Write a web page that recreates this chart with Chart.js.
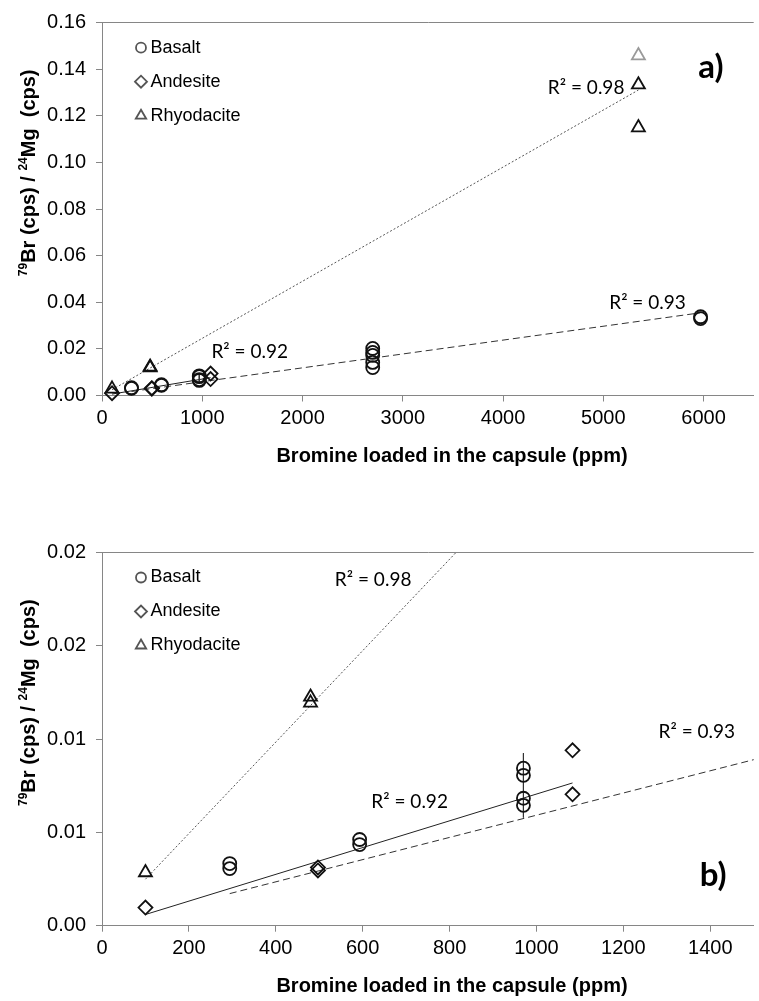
<!DOCTYPE html>
<html>
<head>
<meta charset="utf-8">
<script src="https://cdn.jsdelivr.net/npm/chart.js@4.4.1/dist/chart.umd.min.js"></script>
<style>
    html, body { margin: 0; padding: 0; background: #fff; overflow: hidden; width: 759px; height: 1001px; }
    canvas { position: absolute; left: 0; display: block; }
    #chartA { top: 0; }
    #chartB { top: 505px; }
</style>
</head>
<body>
<canvas id="chartA" width="763" height="505"></canvas>
<canvas id="chartB" width="763" height="496"></canvas>
<script>
// measured points (ppm loaded vs 79Br/24Mg)
var basaltX = [294, 294, 593, 593, 970, 970, 970, 970, 2700, 2700, 2700, 2700, 2700, 5970, 5970];
var basaltY = [0.00333, 0.00306, 0.00462, 0.00435, 0.00844, 0.00806, 0.00683, 0.00645, 0.0202, 0.0185, 0.0172, 0.0142, 0.0120, 0.0338, 0.0330];
var andesiteX = [100, 497, 497, 1083, 1083];
var andesiteY = [0.00097, 0.00312, 0.00296, 0.0094, 0.00704];
var rhyoX = [100, 480, 480, 5350, 5350, 5350];
var rhyoY = [0.00285, 0.01226, 0.01194, 0.1459, 0.1334, 0.1150];

// error bar on the basalt points at 970 ppm
var errX = [970, 970];
var errY = [0.00925, 0.0058];

// linear fits (end points)
var rhyoFitX = [100, 5350];
var rhyoFitY = [0.00249, 0.1311];
var basaltFitX = [294, 5970];
var basaltFitY = [0.00172, 0.0355];
var andesiteFitX = [100, 1083];
var andesiteFitY = [0.0006, 0.00765];

// axes
var xTicksA = [0, 1000, 2000, 3000, 4000, 5000, 6000];
var yTicksA = [0, 0.02, 0.04, 0.06, 0.08, 0.10, 0.12, 0.14, 0.16];
var yLabelsA = ['0.00', '0.02', '0.04', '0.06', '0.08', '0.10', '0.12', '0.14', '0.16'];
var xTicksB = [0, 200, 400, 600, 800, 1000, 1200, 1400];
var yTicksB = [0, 0.005, 0.01, 0.015, 0.02];
var yLabelsB = ['0.00', '0.01', '0.01', '0.02', '0.02'];

// R² labels and panel letters, anchored in data units
var notesA = [
    {text: 'R\u00b2 = 0.98', x: 4447, y: 0.1319},
    {text: 'R\u00b2 = 0.93', x: 5059, y: 0.0397},
    {text: 'R\u00b2 = 0.92', x: 1091, y: 0.0187},
    {text: 'a)', x: 5947, y: 0.1409, bold: true}
];
var notesB = [
    {text: 'R\u00b2 = 0.98', x: 536, y: 0.01853},
    {text: 'R\u00b2 = 0.92', x: 620, y: 0.00663},
    {text: 'R\u00b2 = 0.93', x: 1281, y: 0.01038},
    {text: 'b)', x: 1376, y: 0.00272, bold: true}
];

var legendNames = ['Basalt', 'Andesite', 'Rhyodacite'];
var legendStyles = ['circle', 'rectRot', 'triangle'];
var xTitle = 'Bromine loaded in the capsule (ppm)';
var yTitleParts = [{t: '79', sup: true}, {t: 'Br (cps) / '}, {t: '24', sup: true}, {t: 'Mg  (cps)'}];

const ARIAL = '"Liberation Sans", Arial, sans-serif';
const AXIS_GRAY = '#868686';

const toPts = (xs, ys) => xs.map((x, i) => ({x: x, y: ys[i]}));

// legend, annotations and axis titles
const panelDecor = {
    id: 'panelDecor',
    afterDraw(chart, args, opts) {
        const ctx = chart.ctx;
        const ca = chart.chartArea;
        const sx = chart.scales.x, sy = chart.scales.y;
        ctx.save();

        // legend inside plot area
        legendNames.forEach((name, i) => {
            const y = ca.top + 25 + i * 34;
            ctx.strokeStyle = '#555';
            ctx.fillStyle = 'rgba(0,0,0,0)';
            Chart.helpers.drawPoint(ctx, {pointStyle: legendStyles[i], radius: i === 0 ? 5 : 6, borderWidth: 1}, 141, y);
            ctx.fillStyle = '#000';
            ctx.font = '18px ' + ARIAL;
            ctx.textAlign = 'left';
            ctx.textBaseline = 'middle';
            ctx.fillText(name, 150.5, y);
        });

        // R² texts
        opts.notes.forEach(n => {
            ctx.font = n.bold ? 'bold 33px Lato, "Open Sans", sans-serif' : '19px Lato, "Open Sans", sans-serif';
            ctx.fillStyle = '#000';
            ctx.textAlign = 'left';
            ctx.textBaseline = 'middle';
            ctx.fillText(n.text, sx.getPixelForValue(n.x), sy.getPixelForValue(n.y));
        });

        // x title
        ctx.font = 'bold 20px ' + ARIAL;
        ctx.textAlign = 'center';
        ctx.textBaseline = 'alphabetic';
        ctx.fillText(xTitle, ca.left + 350, ca.bottom + 66.5);

        // y title with superscripts
        ctx.translate(35, ca.top + 253.5);
        ctx.rotate(-Math.PI / 2);
        ctx.textAlign = 'left';
        let pos = 0;
        yTitleParts.forEach(p => {
            ctx.font = p.sup ? 'bold 12px ' + ARIAL : 'bold 20px ' + ARIAL;
            ctx.fillText(p.t, pos, p.sup ? -8 : 0);
            pos += ctx.measureText(p.t).width;
        });
        ctx.restore();
    }
};

function makeDatasets() {
    const marker = (style, radius) => ({
        showLine: false,
        pointStyle: style,
        pointRadius: radius,
        pointBorderWidth: 1.8,
        pointBackgroundColor: 'rgba(0,0,0,0)',
        pointBorderColor: c => (c.raw && c.raw.y > 0.14) ? '#9a9a9a' : '#111',
        clip: false
    });
    const fit = (dash, color) => ({
        showLine: true,
        pointRadius: 0,
        borderWidth: 1,
        borderColor: color,
        borderDash: dash
    });
    return [
        Object.assign({label: 'Basalt', data: toPts(basaltX, basaltY)}, marker('circle', 6.5)),
        Object.assign({label: 'Andesite', data: toPts(andesiteX, andesiteY)}, marker('rectRot', 7)),
        Object.assign({label: 'Rhyodacite', data: toPts(rhyoX, rhyoY)}, marker('triangle', 7.5)),
        Object.assign({label: 'err', data: toPts(errX, errY)}, fit([], '#333')),
        Object.assign({label: 'fitR', data: toPts(rhyoFitX, rhyoFitY)}, fit([2, 2], '#555')),
        Object.assign({label: 'fitB', data: toPts(basaltFitX, basaltFitY)}, fit([7, 4], '#333')),
        Object.assign({label: 'fitA', data: toPts(andesiteFitX, andesiteFitY)}, fit([], '#222'))
    ];
}

function buildChart(id, cfg) {
    const canvas = document.getElementById(id);
    return new Chart(canvas.getContext('2d'), {
        type: 'scatter',
        data: {datasets: makeDatasets()},
        options: {
            responsive: false,
            animation: false,
            events: [],
            layout: {padding: {top: cfg.padTop, right: 2, bottom: 0, left: 0}},
            plugins: {
                legend: {display: false},
                tooltip: {enabled: false},
                panelDecor: {notes: cfg.notes}
            },
            scales: {
                x: {
                    type: 'linear',
                    min: 0,
                    max: cfg.xMax,
                    afterBuildTicks: s => { s.ticks = cfg.xTicks.map(v => ({value: v})); },
                    afterFit: s => { s.height = cfg.xHeight; },
                    border: {display: true, color: AXIS_GRAY, width: 1},
                    grid: {drawOnChartArea: false, drawTicks: true, tickLength: 6, tickColor: AXIS_GRAY},
                    ticks: {
                        autoSkip: false, maxRotation: 0, padding: 5, color: '#000',
                        font: {family: ARIAL, size: 20},
                        callback: (v) => String(v)
                    }
                },
                y: {
                    type: 'linear',
                    min: 0,
                    max: cfg.yMax,
                    afterBuildTicks: s => { s.ticks = cfg.yTicks.map(v => ({value: v})); },
                    afterFit: s => { s.width = 102; },
                    border: {display: true, color: AXIS_GRAY, width: 1},
                    grid: {
                        drawTicks: true, tickLength: 6, tickColor: AXIS_GRAY,
                        color: c => (c.tick && c.tick.value === cfg.yMax) ? AXIS_GRAY : 'rgba(0,0,0,0)'
                    },
                    ticks: {
                        autoSkip: false, padding: 10, color: '#000',
                        font: {family: ARIAL, size: 20},
                        callback: (v, i) => cfg.yLabels[i]
                    }
                }
            }
        },
        plugins: [panelDecor]
    });
}

buildChart('chartA', {
    padTop: 22.7, xMax: 6500, yMax: 0.16, xHeight: 109.5,
    xTicks: xTicksA, yTicks: yTicksA, yLabels: yLabelsA, notes: notesA
});
buildChart('chartB', {
    padTop: 47.5, xMax: 1500, yMax: 0.02, xHeight: 75.3,
    xTicks: xTicksB, yTicks: yTicksB, yLabels: yLabelsB, notes: notesB
});
</script>
</body>
</html>
